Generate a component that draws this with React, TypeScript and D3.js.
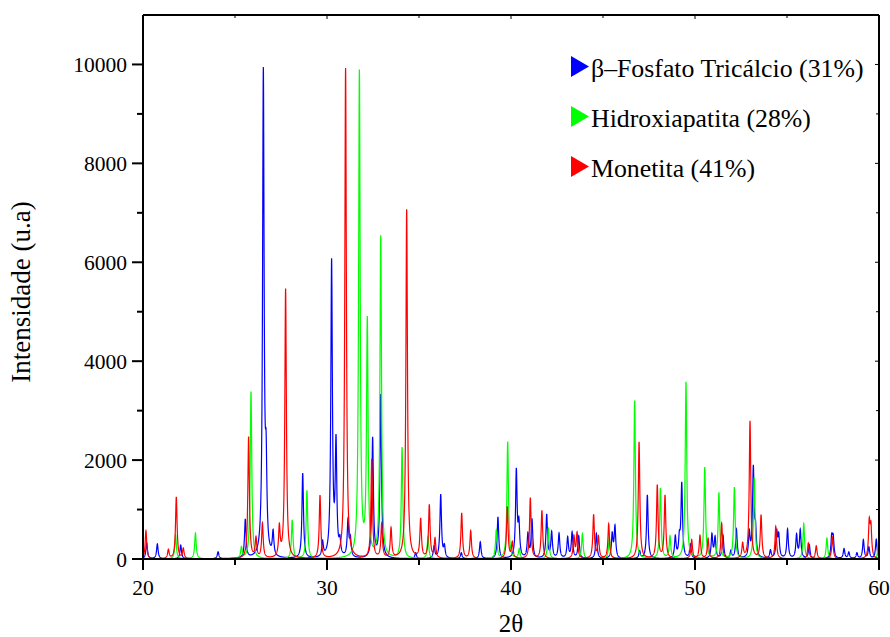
import React, { useMemo } from 'react';
import * as d3 from 'd3';

// Peak lists: [2θ, intensity]
const betaTcpPeaks: [number, number][] = [
  [20.2, 325], [20.78, 300], [22.05, 280], [24.08, 140], [25.56, 780],
  [26.54, 9780], [26.69, 1600], [27.07, 480], [28.68, 1720], [29.76, 300],
  [30.25, 5970], [30.49, 2250], [30.7, 280], [31.14, 730], [31.27, 360],
  [32.48, 2420], [32.92, 3300], [34.82, 120], [35.82, 240], [36.18, 1290],
  [36.38, 230], [37.3, 120], [38.33, 340], [39.29, 840], [40.29, 1760],
  [40.43, 640], [40.92, 480], [41.14, 780], [41.94, 880], [42.21, 520],
  [42.61, 500], [43.08, 420], [43.32, 520], [43.68, 450], [44.64, 510],
  [45.5, 480], [45.65, 640], [46.99, 150], [47.41, 1290], [48.93, 430],
  [49.15, 360], [49.28, 1500], [49.75, 280], [50.92, 480], [51.09, 420],
  [51.52, 470], [51.95, 150], [52.25, 590], [52.95, 500], [53.17, 1800],
  [53.29, 500], [54.1, 160], [54.44, 510], [54.55, 440], [55.03, 590],
  [55.52, 470], [55.72, 570], [56.21, 280], [57.43, 410], [57.51, 390],
  [58.1, 200], [58.36, 130], [58.8, 115], [59.15, 380], [59.45, 230],
  [59.85, 390],
];

const hidroxiapatitaPeaks: [number, number][] = [
  [21.77, 485], [22.85, 518], [25.35, 220], [25.87, 3380], [28.11, 780],
  [28.91, 1380], [31.76, 9820], [32.19, 4750], [32.92, 6500], [34.08, 2240],
  [35.49, 451], [39.2, 570], [39.82, 2370], [40.45, 200], [42.03, 610],
  [43.88, 510], [45.34, 440], [46.72, 3200], [48.12, 1420], [48.64, 440],
  [49.51, 3570], [50.53, 1840], [51.3, 1330], [52.14, 1440], [53.22, 1640],
  [55.91, 710], [57.17, 420], [60.0, 518],
];

const monetitaPeaks: [number, number][] = [
  [20.16, 570], [21.38, 180], [21.81, 1250], [22.19, 200], [25.74, 2460],
  [26.14, 400], [26.49, 700], [27.41, 600], [27.75, 5450], [29.62, 1270],
  [31.01, 9920], [32.43, 2000], [32.97, 680], [33.48, 600], [34.33, 7060],
  [35.09, 780], [35.56, 1070], [35.87, 390], [37.32, 920], [37.81, 560],
  [39.8, 1050], [40.07, 320], [41.05, 1230], [41.68, 970], [43.42, 440],
  [43.59, 510], [44.49, 880], [44.75, 430], [45.31, 700], [46.96, 2360],
  [47.95, 1480], [48.37, 1270], [49.82, 380], [50.27, 465], [50.71, 405],
  [51.45, 715], [52.59, 290], [52.99, 2780], [53.59, 875], [54.39, 650],
  [56.16, 320], [56.59, 260], [57.47, 440], [59.47, 700], [59.56, 600],
];

const seriesNames = ['β–Fosfato Tricálcio (31%)', 'Hidroxiapatita (28%)', 'Monetita (41%)'];
const seriesColors = ['#0000ff', '#00ff00', '#ff0000'];

const xMajorTicks = [20, 30, 40, 50, 60];
const xMinorTicks = [25, 35, 45, 55];
const yMajorTicks = [0, 2000, 4000, 6000, 8000, 10000];
const yMinorTicks = [1000, 3000, 5000, 7000, 9000];

const W = 890, H = 637;
const L = 143, R = 879, T = 15, B = 559;

function profile(peaks: [number, number][], hw: number): [number, number][] {
  const pts: [number, number][] = [];
  const step = 0.005;
  for (let i = 0; i <= 8000; i++) {
    const x = 20 + i * step;
    let y = 0;
    for (const [c, h] of peaks) {
      const d = x - c;
      y += (h * hw * hw) / (d * d + hw * hw);
    }
    pts.push([x, y]);
  }
  return pts;
}

function Label(props: { x?: number; y?: number; size: number; anchor?: string; transform?: string; children: React.ReactNode }) {
  return (
    <text
      x={props.x}
      y={props.y}
      transform={props.transform}
      textAnchor={props.anchor || 'start'}
      fill="#000"
      style={{ fontFamily: '"Liberation Serif"', fontSize: `${props.size}px` }}
    >
      {props.children}
    </text>
  );
}

export default function App() {
  const x = d3.scaleLinear().domain([20, 60]).range([L, R]);
  const y = d3.scaleLinear().domain([0, 11000]).range([B, T]);
  const line = d3.line<[number, number]>().x(d => x(d[0])).y(d => y(d[1]));

  const paths = useMemo(() => {
    const all = [betaTcpPeaks, hidroxiapatitaPeaks, monetitaPeaks];
    return all.map(p => line(profile(p, 0.05)) as string);
  }, []);

  return (
    <svg width={W} height={H} style={{ position: 'absolute', left: 0, top: 0, background: '#fff' }}>
      <defs>
        <clipPath id="plot">
          <rect x={L} y={T} width={R - L} height={B - T} />
        </clipPath>
      </defs>
      <rect x={0} y={0} width={W} height={H} fill="#fff" />
      <g clipPath="url(#plot)">
        {paths.map((d, i) => (
          <path key={i} d={d} fill="none" stroke={seriesColors[i]} strokeWidth={1.2} />
        ))}
      </g>
      {/* frame */}
      <line x1={L} x2={R} y1={T} y2={T} stroke="#000" strokeWidth={2} />
      <line x1={R} x2={R} y1={T} y2={B} stroke="#000" strokeWidth={2} />
      <line x1={L} x2={L} y1={T} y2={B + 1} stroke="#000" strokeWidth={2} />
      <line x1={L - 1} x2={R + 1} y1={B} y2={B} stroke="#000" strokeWidth={2} />
      {/* x ticks */}
      {xMajorTicks.map(t => (
        <g key={'xm' + t}>
          <line x1={x(t)} x2={x(t)} y1={B} y2={B + 11} stroke="#000" strokeWidth={2} />
          <line x1={x(t)} x2={x(t)} y1={T} y2={T + 4} stroke="#000" strokeWidth={1} />
          <Label x={x(t)} y={595} anchor="middle" size={21.5}>{t}</Label>
        </g>
      ))}
      {xMinorTicks.map(t => (
        <g key={'xn' + t}>
          <line x1={x(t)} x2={x(t)} y1={B} y2={B + 6} stroke="#000" strokeWidth={2} />
          <line x1={x(t)} x2={x(t)} y1={T} y2={T + 3} stroke="#000" strokeWidth={1} />
        </g>
      ))}
      {/* y ticks */}
      {yMajorTicks.map(t => (
        <g key={'ym' + t}>
          <line x1={L - 11} x2={L} y1={y(t)} y2={y(t)} stroke="#000" strokeWidth={2} />
          <line x1={R - 4} x2={R} y1={y(t)} y2={y(t)} stroke="#000" strokeWidth={1} />
          <Label x={127} y={y(t) + 7.5} anchor="end" size={21.5}>{t}</Label>
        </g>
      ))}
      {yMinorTicks.map(t => (
        <g key={'yn' + t}>
          <line x1={L - 6} x2={L} y1={y(t)} y2={y(t)} stroke="#000" strokeWidth={2} />
          <line x1={R - 3} x2={R} y1={y(t)} y2={y(t)} stroke="#000" strokeWidth={1} />
        </g>
      ))}
      {/* axis titles */}
      <Label x={511} y={632} anchor="middle" size={25}>2θ</Label>
      <Label transform="translate(30,292) rotate(-90)" anchor="middle" size={27}>Intensidade (u.a)</Label>
      {/* legend */}
      {seriesNames.map((n, i) => {
        const cy = 66.5 + i * 50;
        return (
          <g key={n}>
            <path d={`M571,${cy - 10.5}L589,${cy}L571,${cy + 10.5}Z`} fill={seriesColors[i]} />
            <Label x={591} y={cy + 10} size={25.8}>{n}</Label>
          </g>
        );
      })}
    </svg>
  );
}
